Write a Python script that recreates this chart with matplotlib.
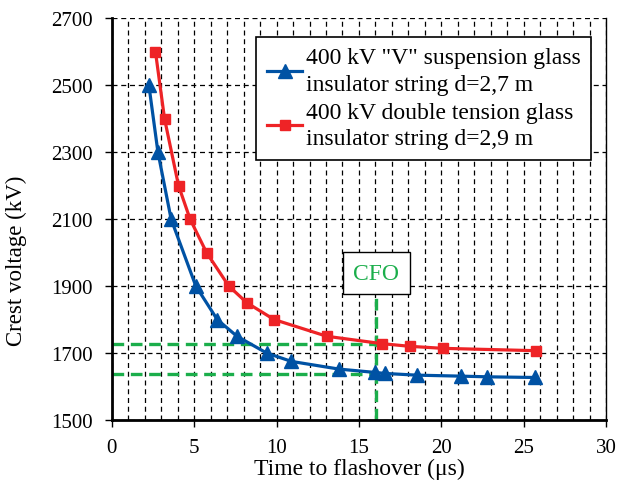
import matplotlib
matplotlib.use('Agg')
from matplotlib import pyplot as plt
from matplotlib.ticker import MultipleLocator
import numpy as np

plt.rcParams['font.family'] = ['Liberation Serif', 'DejaVu Serif']

# 400 kV "V" suspension string, d=2,7 m
t_v = [2.25, 2.8, 3.6, 5.1, 6.4, 7.6, 9.4, 10.9, 13.8, 16.0, 16.6, 18.5, 21.2, 22.8, 25.7]
u_v = [2500, 2300, 2100, 1900, 1800, 1750, 1700, 1675, 1652, 1642, 1639, 1634, 1631, 1629, 1627]

# 400 kV double tension string, d=2,9 m
t_d = [2.65, 3.2, 4.05, 4.75, 5.75, 7.1, 8.2, 9.85, 13.05, 16.4, 18.1, 20.1, 25.75]
u_d = [2600, 2400, 2200, 2100, 2000, 1900, 1850, 1800, 1750, 1728, 1720, 1714, 1707]

label_v = '400 kV "V" suspension glass\ninsulator string d=2,7 m'
label_d = '400 kV double tension glass\ninsulator string d=2,9 m'

# CFO marking
cfo_t = 16.05
cfo_u = [1728, 1637]
cfo_top = 1885

yticks = np.arange(1500, 2701, 200)

blue = '#0052A4'
red = '#EE2326'
green = '#1BAE4B'

fig = plt.figure(figsize=(6.21, 4.89), dpi=100)
ax = fig.add_axes([0.180, 0.139, 0.796, 0.822])

ax.set_xlim(0, 30)
ax.set_ylim(1500, 2700)
ax.xaxis.set_major_locator(MultipleLocator(5))
ax.xaxis.set_minor_locator(MultipleLocator(1))
ax.set_yticks(yticks)

ax.grid(True, which='major', axis='y', color='black', linestyle=(0, (4, 3)), linewidth=0.9)
ax.grid(True, which='both', axis='x', color='black', linestyle=(0, (4, 3)), linewidth=0.9)
ax.set_axisbelow(True)

# CFO guide lines
ax.plot([cfo_t, cfo_t], [1500, cfo_top], color=green, linewidth=2.4,
        linestyle=(0, (3.5, 2)), zorder=2)
for u in cfo_u:
    ax.plot([0, cfo_t], [u, u], color=green, linewidth=2.4,
            linestyle=(0, (3.5, 2)), zorder=2)

ax.plot(t_v, u_v, color=blue, linewidth=2.3, marker='^', markersize=9.5, label=label_v, zorder=3)
ax.plot(t_d, u_d, color=red, linewidth=2.3, marker='s', markersize=7.5, label=label_d, zorder=3)

ax.text(cfo_t, 1938, 'CFO', color=green, fontsize=17, ha='center', va='center',
        bbox=dict(boxstyle='square,pad=0.45', fc='white', ec='black', lw=1))

ax.spines['top'].set_visible(False)
ax.spines['left'].set_linewidth(2)
ax.spines['bottom'].set_linewidth(2)
ax.spines['right'].set_linewidth(1)

ax.tick_params(which='major', direction='out', length=5, width=1, labelsize=15)
ax.tick_params(which='minor', length=0)
ax.tick_params(axis='y', pad=9)
ax.tick_params(axis='x', pad=8)

ax.set_xlabel('Time to flashover (μs)', fontsize=17)
ax.set_ylabel('Crest voltage (kV)', fontsize=16.5)
ax.xaxis.set_label_coords(0.5, -0.095)
ax.yaxis.set_label_coords(-0.172, 0.398)

leg = ax.legend(loc='upper right', bbox_to_anchor=(0.970, 0.954), borderaxespad=0,
                fontsize=17, handlelength=1.5, handletextpad=0.15, labelspacing=0.3,
                fancybox=False, framealpha=1, edgecolor='black', borderpad=0.45)
leg.get_frame().set_linewidth(1.2)
for t in leg.get_texts():
    t.set_linespacing(1.35)

fig.savefig('out.png', dpi=100)
plt.close(fig)
